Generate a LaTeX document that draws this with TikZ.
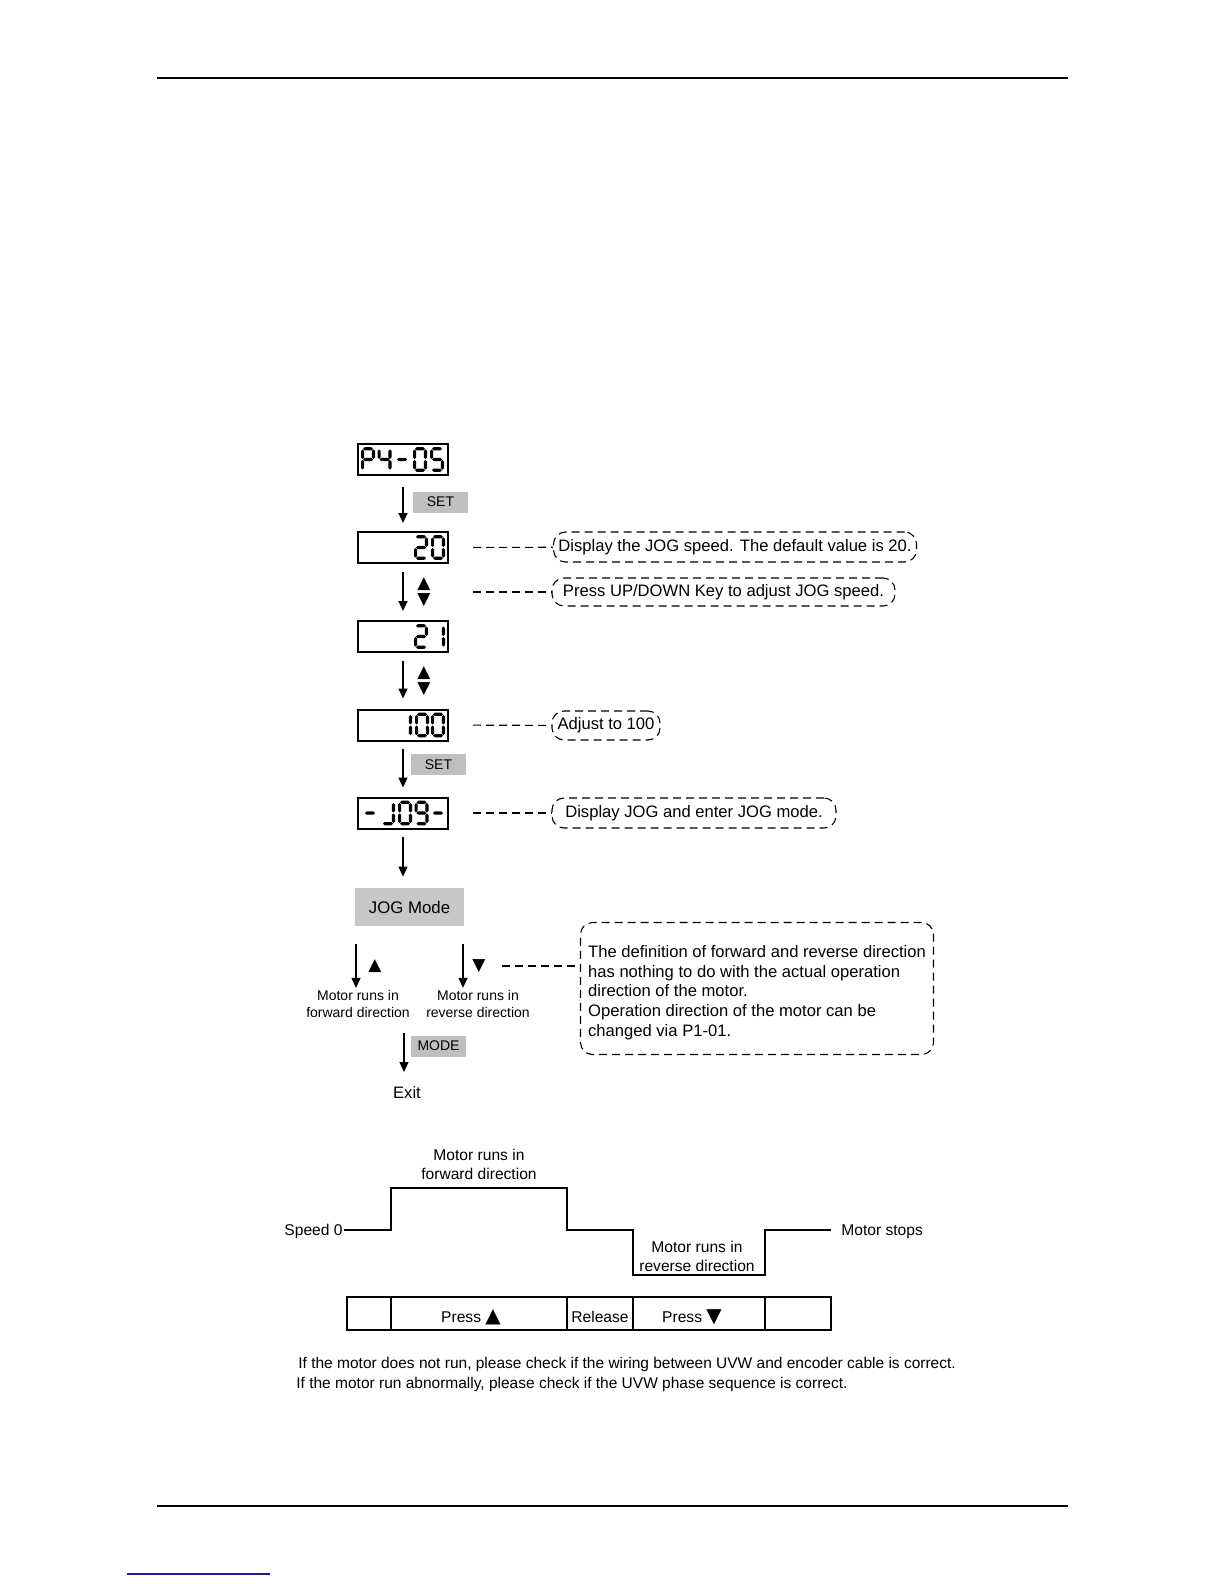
\documentclass[tikz,border=0pt]{standalone}
\usepackage{fontspec}
\setmainfont{Liberation Sans}
\newfontfamily\symfont{DejaVu Sans}
\usetikzlibrary{arrows.meta}
\definecolor{linkblue}{RGB}{30,30,130}

% LCD segments, in pixels from the display's top left corner (y down)
\newcommand\hseg[3]{\fill (#1,#3) -- (#1+1.6,#3-1.6) -- (#2-1.6,#3-1.6) -- (#2,#3) -- (#2-1.6,#3+1.6) -- (#1+1.6,#3+1.6) -- cycle;}
\newcommand\vseg[3]{\fill (#1,#2) -- (#1+1.6,#2+1.6) -- (#1+1.6,#3-1.6) -- (#1,#3) -- (#1-1.6,#3-1.6) -- (#1-1.6,#2+1.6) -- cycle;}
\newcommand\lcda[1]{\hseg{#1+2}{#1+12}{4.8}}
\newcommand\lcdg[1]{\hseg{#1+2}{#1+12}{15.5}}
\newcommand\lcdd[1]{\hseg{#1+2}{#1+12}{26.2}}
\newcommand\lcdf[1]{\vseg{#1+1.6}{5.4}{15}}
\newcommand\lcdb[1]{\vseg{#1+12.4}{5.4}{15}}
\newcommand\lcde[1]{\vseg{#1+1.6}{16}{25.6}}
\newcommand\lcdc[1]{\vseg{#1+12.4}{16}{25.6}}
\newcommand\lcdchar[2]{\foreach \s in {#2}{\csname lcd\s\endcsname{#1}}}

\begin{document}
\begin{tikzpicture}[x=0.5pt,y=-0.5pt,
    lcd/.style={draw,line width=1pt,minimum width=45pt,minimum height=15.5pt,inner sep=0pt,outer sep=0pt},
    keytag/.style={fill=black!25,minimum width=27.5pt,minimum height=10.5pt,inner sep=0pt,font=\fontsize{7}{8}\selectfont},
    flow/.style={-{Triangle[length=5pt,width=4.5pt]},line width=0.6pt},
    note/.style={draw,dash pattern=on 4pt off 2.5pt,rounded corners=6pt,line width=0.55pt,inner sep=0pt,font=\fontsize{8.3}{9.85}\selectfont},
    notelink/.style={dash pattern=on 4pt off 2.5pt,line width=0.55pt},
    updown/.style={font=\symfont\fontsize{8.5}{8}\selectfont,inner sep=0pt,align=center},
    steptext/.style={font=\fontsize{7}{8.6}\selectfont,align=center,inner sep=1pt},
    wavetext/.style={font=\fontsize{7.8}{9.6}\selectfont,align=center,inner sep=1pt},
    hint/.style={font=\fontsize{7.75}{9}\selectfont,anchor=west,inner sep=0pt}]
    \useasboundingbox (0,0) rectangle (1224,1584);

    % page rules
    \draw[line width=0.8pt] (157,78) -- (1068,78);
    \draw[line width=0.8pt] (157,1506) -- (1068,1506);
    \draw[linkblue,line width=0.6pt] (127,1574) -- (270,1574);

    % Displays
    \node[lcd] (p405) at (403,459.5) {};
    \node[lcd] (d20) at (403,547.5) {};
    \node[lcd] (d21) at (403,636.5) {};
    \node[lcd] (d100) at (403,725) {};
    \node[lcd] (djog) at (403,813) {};

    \begin{scope}[shift={(p405.north west)}]
        \lcdchar{3}{a,b,f,g,e}
        \lcdchar{19.5}{f,g,b,c}
        \lcdchar{37}{g}
        \lcdchar{55}{a,b,c,d,e,f}
        \lcdchar{72}{a,f,g,c,d}
    \end{scope}
    \begin{scope}[shift={(d20.north west)}]
        \lcdchar{56}{a,b,g,e,d}
        \lcdchar{73}{a,b,c,d,e,f}
    \end{scope}
    \begin{scope}[shift={(d21.north west)}]
        \lcdchar{56}{a,b,g,e,d}
        \lcdchar{73}{b,c}
    \end{scope}
    \begin{scope}[shift={(d100.north west)}]
        \lcdchar{40}{b,c}
        \lcdchar{57}{a,b,c,d,e,f}
        \lcdchar{73}{a,b,c,d,e,f}
    \end{scope}
    \begin{scope}[shift={(djog.north west)}]
        \lcdchar{5}{g}
        \lcdchar{23}{b,c,d}
        \lcdchar{40}{a,b,c,d,e,f}
        \lcdchar{56.5}{a,b,c,d,f,g}
        \lcdchar{73}{g}
    \end{scope}

    % Keys
    \node[keytag] (set1) at (440.5,502) {SET};
    \node[updown] (ud1) at (424,592) {▲\\▼};
    \node[updown] (ud2) at (424,681) {▲\\▼};
    \node[keytag] (set2) at (438.5,764.5) {SET};
    \node[fill=black!22,minimum width=54.5pt,minimum height=19pt,inner sep=0pt,
        font=\fontsize{8.4}{10}\selectfont] (jogmode) at (409.5,907) {JOG Mode};
    \node[updown] (up) at (375,966) {▲};
    \node[updown] (down) at (479,966) {▼};
    \node[steptext] (fwd) at (358,1004) {Motor runs in\\forward direction};
    \node[steptext] (rev) at (478,1004) {Motor runs in\\reverse direction};
    \node[keytag] (mode) at (438.5,1046) {MODE};
    \node[font=\fontsize{8.3}{10}\selectfont,inner sep=1pt] (exit) at (407,1093) {Exit};

    % Steps
    \draw[flow,shorten <=6pt,shorten >=4.5pt] (p405) -- (d20);
    \draw[flow,shorten <=4.5pt,shorten >=5pt] (d20) -- (d21);
    \draw[flow,shorten <=4.5pt,shorten >=5.5pt] (d21) -- (d100);
    \draw[flow,shorten <=4pt,shorten >=5pt] (d100) -- (djog);
    \draw[flow,shorten <=4pt,shorten >=5.5pt] (djog.south) -- (djog.south |- jogmode.north);
    \coordinate (fwdtop) at (356,944);
    \coordinate (revtop) at (463,944);
    \coordinate (extop) at (404,1033);
    \coordinate (exbot) at (404,1072);
    \draw[flow] (fwdtop) -- (fwdtop |- fwd.north);
    \draw[flow] (revtop) -- (revtop |- rev.north);
    \draw[flow] (extop) -- (exbot);

    % Notes
    \node[note,minimum width=181.5pt,minimum height=15pt] (n20) at (735,547) {Display the JOG speed. The default value is 20.};
    \node[note,minimum width=171.5pt,minimum height=14pt] (nkey) at (723.5,592) {Press UP/DOWN Key to adjust JOG speed.};
    \node[note,minimum width=54pt,minimum height=14.5pt] (n100) at (606,725.5) {Adjust to 100};
    \node[note,minimum width=142pt,minimum height=15pt] (njog) at (694,813) {Display JOG and enter JOG mode.};
    \node[note,minimum width=176.5pt,minimum height=66pt,align=left] (ndir) at (757,988.5)
        {\rule{0pt}{10pt}The definition of forward and reverse direction\\has nothing to do with the actual operation\\direction of the motor.\\Operation direction of the motor can be\\changed via P1-01.};
    \coordinate (kkey) at (473,592);
    \coordinate (kdir) at (502,966);
    \draw[notelink,shorten <=12.5pt] (d20) -- (n20);
    \draw[notelink] (kkey) -- (nkey);
    \draw[notelink,shorten <=12.5pt] (d100) -- (n100);
    \draw[notelink,shorten <=12.5pt] (djog) -- (njog);
    \draw[notelink] (kdir) -- (kdir -| ndir.west);

    % Speed curve
    \node[wavetext,anchor=east] (zero) at (345,1231) {Speed 0};
    \node[wavetext,anchor=west] (stop) at (839,1232) {Motor stops};
    \node[wavetext] (runfwd) at (479,1164.5) {Motor runs in\\forward direction};
    \node[wavetext] (runrev) at (697,1256.5) {Motor runs in\\reverse direction};
    \draw[line width=1pt] (zero.east) |- (391,1230) |- (567,1188) |- (633,1230) |- (765,1275) |- (831,1230);

    % Key table
    \draw[line width=0.7pt] (347,1297) rectangle (831,1330);
    \foreach \x in {391,567,633,765}
        \draw[line width=0.7pt] (\x,1297) -- (\x,1330);
    \node[wavetext] (pup) at (471,1317) {Press {\symfont\fontsize{10}{10}\selectfont ▲}};
    \node[wavetext] (rel) at (600,1317) {Release};
    \node[wavetext] (pdown) at (692,1317) {Press {\symfont\fontsize{10}{10}\selectfont ▼}};

    % Hints
    \node[hint] (hint1) at (298,1364)
        {If the motor does not run, please check if the wiring between UVW and encoder cable is correct.};
    \node[hint] (hint2) at (296,1384)
        {If the motor run abnormally, please check if the UVW phase sequence is correct.};
\end{tikzpicture}
\end{document}
